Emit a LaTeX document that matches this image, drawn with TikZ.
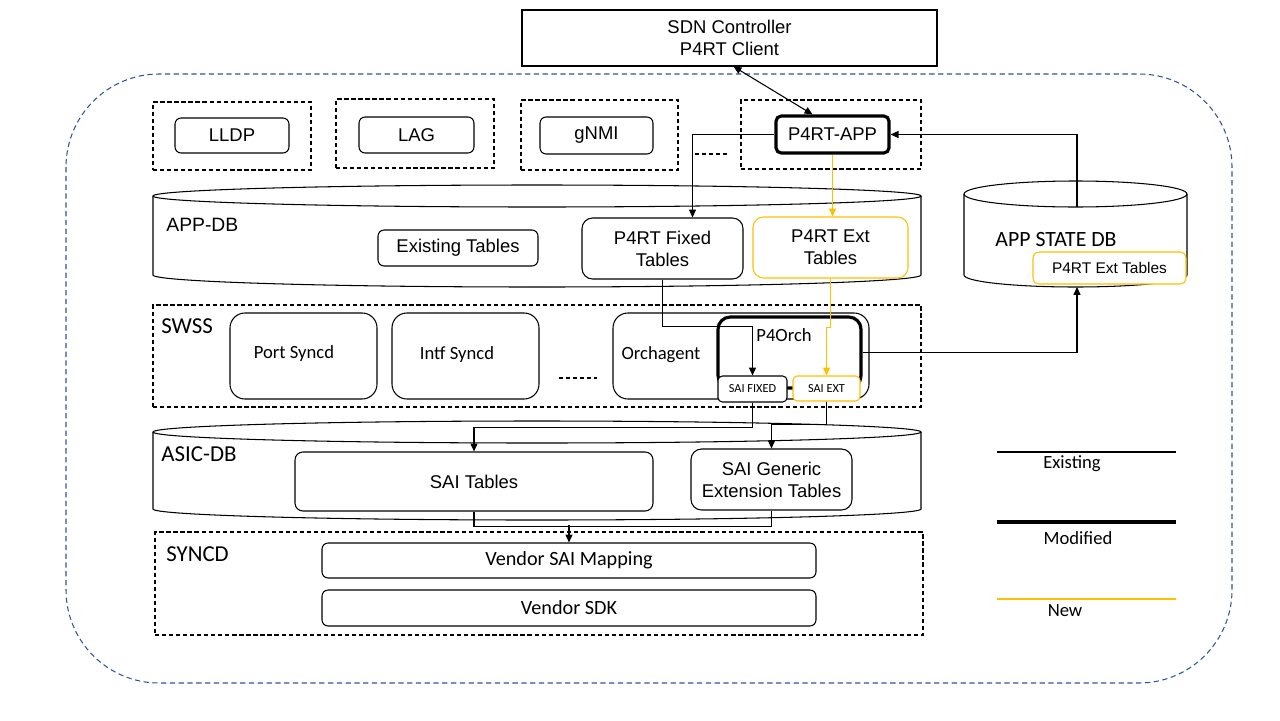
\documentclass[tikz,border=0pt]{standalone}
\usepackage{fontspec}
\setmainfont{Liberation Sans}
\newfontfamily\calibri{Carlito}
\usetikzlibrary{arrows.meta,fit,calc}

\definecolor{newyellow}{RGB}{255,192,0}
\definecolor{hostblue}{RGB}{47,85,151}
\tikzset{every path/.style={line width=.6pt}}
\tikzset{
  grp/.style={draw, dash pattern=on 2.4pt off 1.6pt, inner sep=0pt},
  blk/.style={draw, rounded corners=3.5pt, inner sep=0pt},
  bigblk/.style={blk, rounded corners=8.5pt},
  modblk/.style={line width=1.8pt},
  newblk/.style={draw=newyellow},
  calf/.style={font=\calibri\fontsize{10.6}{12.7}\selectfont},
  txt/.style={label={[align=center, font=\fontsize{10.5}{12.6}\selectfont]center:#1}},
  stxt/.style={label={[align=center, font=\fontsize{8.8}{10.5}\selectfont]center:#1}},
  vtxt/.style={label={[align=center, font=\calibri\fontsize{11.5}{13}\selectfont]center:#1}},
  ttxt/.style={label={[align=center, font=\calibri\fontsize{7}{8}\selectfont]center:#1}},
  arr/.style={-{Triangle[length=4.5pt,width=4pt]}},
  arrs/.style={{Triangle[length=4.5pt,width=4pt]}-{Triangle[length=4.5pt,width=4pt]}}
}

\begin{document}
\begin{tikzpicture}[x=.02cm, y=-.02cm, font=\fontsize{10.5}{12.6}\selectfont]
\useasboundingbox (0,0) rectangle (1280,720);

% host
\draw[hostblue, dash pattern=on 3pt off 2pt, rounded corners=53pt] (66,74) rectangle (1232,683);
\node[draw, inner sep=0pt, fit={(522,10) (937,66)}, txt={SDN Controller\\P4RT Client}] (sdn) {};

% apps
\node[grp, fit={(153,102) (311,170)}] (lldpgrp) {};
\node[blk, fit={(175,118) (289,153)}, txt=LLDP] (lldp) {};
\node[grp, fit={(336,99) (494,168)}] (laggrp) {};
\node[blk, fit={(359,117) (474,153)}, txt=LAG] (lag) {};
\node[grp, fit={(521,100) (678,170)}] (gnmigrp) {};
\node[blk, fit={(540,117) (653,154)}, txt=gNMI] (gnmi) {};
\node[grp, fit={(741,100) (921,169)}] (p4rtgrp) {};
\node[blk, modblk, rounded corners=3pt, fit={(776,116) (889,153)}, txt=P4RT-APP] (p4rtapp) {};
\draw[dash pattern=on 2.4pt off 1.6pt] (695,154) -- (730,154);

% APP-DB
\draw[fill=white] (153,196) -- (153,275) arc[start angle=180, end angle=0, x radius=384, y radius=12] -- (921,196);
\draw (537,196) ellipse[x radius=384, y radius=11];
\node[anchor=west, font=\fontsize{11}{13}\selectfont] (appdb) at (160,225) {APP-DB};
\node[blk, fit={(378,230) (538,266)}, txt=Existing Tables] (existing) {};
\node[blk, rounded corners=6pt, fit={(582,218) (743,279)}, txt={P4RT Fixed\\Tables}] (fixed) {};
\node[blk, newblk, rounded corners=6pt, fit={(753,217) (908,278)}, txt={P4RT Ext\\Tables}] (ext) {};

% APP STATE DB
\draw[fill=white] (964,194) -- (964,275) arc[start angle=180, end angle=0, x radius=111.5, y radius=12] -- (1187,194);
\draw (1075.5,194) ellipse[x radius=111.5, y radius=13];
\node[font=\calibri\fontsize{12.4}{14}\selectfont] (statedb) at (1056,240) {APP STATE DB};
\node[blk, newblk, fill=white, fit={(1033,252) (1186,284)}, stxt=P4RT Ext Tables] (stateext) {};
\coordinate (statedbtop) at (1077,207);
\coordinate (statedbbot) at (1077,287);

% SWSS
\node[grp, fit={(153,305) (921,407)}] (swss) {};
\node[anchor=west, font=\calibri\fontsize{13}{15}\selectfont] (swsslbl) at (155,326) {SWSS};
\node[bigblk, fit={(230,313) (377,399)}] (portsyncd) {};
\node[calf] (portlbl) at (294,354) {Port Syncd};
\node[bigblk, fit={(392,313) (539,399)}] (intfsyncd) {};
\node[calf] (intflbl) at (457,355) {Intf Syncd};
\draw[dash pattern=on 2.4pt off 1.6pt] (559,378) -- (597,378);
\node[bigblk, fit={(613,313) (869,399)}] (orchagent) {};
\node[calf] (orchlbl) at (661,355) {Orchagent};
\node[blk, modblk, rounded corners=7pt, fit={(718,317) (861,388)}] (p4orch) {};
\node[calf] (p4orchlbl) at (784,335) {P4Orch};
\node[blk, fill=white, rounded corners=2.5pt, fit={(718,376) (787,402)}, ttxt=SAI FIXED] (saifixed) {};
\node[blk, newblk, fill=white, rounded corners=2.5pt, fit={(793,376) (860,401)}, ttxt=SAI EXT] (saiext) {};

% ASIC-DB
\draw[fill=white] (153,432) -- (153,509) arc[start angle=180, end angle=0, x radius=384, y radius=11] -- (921,432);
\draw (537,432) ellipse[x radius=384, y radius=11];
\node[anchor=west, font=\calibri\fontsize{13}{15}\selectfont] (asicdb) at (155,454) {ASIC-DB};
\node[blk, rounded corners=4.5pt, fit={(295,452) (653,511)}, txt=SAI Tables] (saitables) {};
\node[blk, rounded corners=6pt, fit={(691,449) (852,510)}, txt={SAI Generic\\Extension Tables}] (saigen) {};

% SYNCD
\node[grp, fit={(155,532) (923,635)}] (syncd) {};
\node[anchor=west, font=\calibri\fontsize{13}{15}\selectfont] (syncdlbl) at (160,554) {SYNCD};
\node[blk, fit={(322,543) (816,578)}, vtxt=Vendor SAI Mapping] (vsai) {};
\node[blk, fit={(322,590) (816,626)}, vtxt=Vendor SDK] (vsdk) {};

% flows
\draw[arrs] ($(sdn.south)+(4,0)$) -- ($(p4rtapp.north)+(-20,0)$);
\draw[arr] (p4rtapp.west) -| ($(fixed.north)+(30,0)$);
\draw[arr, newyellow] (p4rtapp.south) -- (p4rtapp.south |- ext.north);
\draw[arr] (statedbtop) |- (p4rtapp.east);
\draw[arr] (p4orch.east) -| (statedbbot);
\draw[arr] (fixed.south) |- ($(saifixed.north)+(0,-49)$) -- (saifixed.north);
\draw[arr, newyellow] (ext.south) -- ++(0,49) -| (saiext.north);
\draw[arr] (saifixed.south) -- ++(0,25) -| (saitables.north);
\draw[arr] (saiext.south) -- ++(0,23) -| (saigen.north);
\draw (saitables.south) -- ++(0,15) -| (saigen.south);
\draw[arr] ($(vsai.north)+(0,-17)$) -- (vsai.north);

% legend
\draw (997,452) -- (1176,452);
\node[calf] (existlbl) at (1072,464) {Existing};
\draw[line width=1.8pt] (997,522) -- (1176,522);
\node[calf] (modlbl) at (1078,538) {Modified};
\draw[newyellow] (997,599) -- (1176,599);
\node[calf] (newlbl) at (1065,611) {New};
\end{tikzpicture}
\end{document}
